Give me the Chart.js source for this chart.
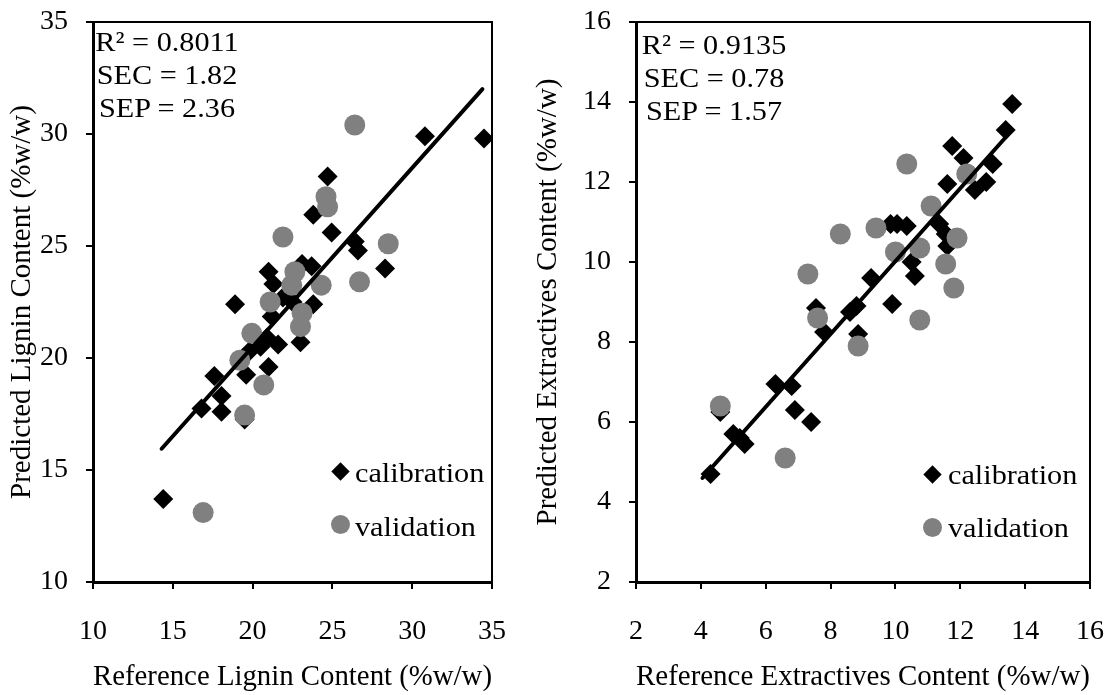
<!DOCTYPE html>
<html>
<head>
<meta charset="utf-8">
<script src="https://cdn.jsdelivr.net/npm/chart.js@4.4.0/dist/chart.umd.min.js"></script>
<style>
body { margin: 0; background: #fff; }
#wrap { position: relative; width: 1114px; height: 695px; font-family: 'Liberation Serif', 'Times New Roman', serif; color: #000; }
.box { position: absolute; top: 0; }
.txt { position: absolute; font-size: 28px; line-height: 28px; white-space: nowrap; transform: scaleX(1.08); transform-origin: 0 50%; }
.stats { position: absolute; font-size: 28px; line-height: 33px; text-align: center; white-space: nowrap; transform: scaleX(1.08); }
.dia { position: absolute; width: 13px; height: 13px; background: #000; transform: rotate(45deg); }
.dot { position: absolute; width: 19px; height: 19px; border-radius: 50%; background: #808080; }
</style>
</head>
<body>
<div id="wrap">
  <div class="box" style="left:0;width:530px;height:695px"><canvas id="lignin" width="530" height="695"></canvas></div>
  <div class="box" style="left:530px;width:584px;height:695px"><canvas id="extract" width="584" height="695"></canvas></div>

  <div class="stats" style="left:92px;top:25px;width:150px">R² = 0.8011<br>SEC = 1.82<br>SEP = 2.36</div>
  <div class="stats" style="left:639px;top:28px;width:150px">R² = 0.9135<br>SEC = 0.78<br>SEP = 1.57</div>

  <div class="dia" style="left:334px;top:465px"></div>
  <div class="txt" style="left:355px;top:459px">calibration</div>
  <div class="dot" style="left:331px;top:515px"></div>
  <div class="txt" style="left:355px;top:513px">validation</div>

  <div class="dia" style="left:926px;top:468px"></div>
  <div class="txt" style="left:948px;top:461px">calibration</div>
  <div class="dot" style="left:923px;top:518px"></div>
  <div class="txt" style="left:948px;top:514px">validation</div>
</div>
<script>
// lignin (left panel)
const ligCalX = [14.4, 16.8, 17.6, 18.05, 18.05, 18.9, 19.5, 19.6, 19.8, 20.5, 20.9, 21.0, 21.0, 21.2, 21.3, 21.6, 21.9, 22.5, 23.0, 23.1, 23.7, 23.8, 23.8, 24.7, 24.95, 26.4, 26.6, 28.3, 30.8, 34.5];
const ligCalY = [13.7, 17.75, 19.2, 18.3, 17.6, 22.4, 17.25, 19.25, 20.3, 20.5, 20.9, 19.6, 23.85, 21.85, 23.3, 20.6, 22.7, 22.5, 20.7, 24.2, 24.1, 22.4, 26.4, 28.1, 25.6, 25.2, 24.8, 24.0, 29.9, 29.8];
const ligValX = [16.9, 19.2, 19.5, 19.95, 20.7, 21.1, 21.9, 22.45, 22.65, 23.0, 23.1, 24.3, 24.6, 24.7, 26.4, 26.7, 28.5];
const ligValY = [13.1, 19.9, 17.45, 21.1, 18.8, 22.5, 25.4, 23.25, 23.85, 21.4, 22.0, 23.25, 27.2, 26.75, 30.4, 23.4, 25.1];
const ligLineX = [14.3, 34.4];
const ligLineY = [15.95, 32.0];
const ligTicks = [10, 15, 20, 25, 30, 35];

// extractives (right panel)
const extCalX = [4.3, 4.6, 5.0, 5.2, 5.35, 6.3, 6.8, 6.9, 7.4, 7.55, 7.8, 8.6, 8.8, 8.85, 9.25, 9.85, 9.9, 10.05, 10.35, 10.5, 10.6, 11.35, 11.55, 11.6, 11.6, 11.75, 12.1, 12.45, 12.8, 13.0, 13.4, 13.6];
const extCalY = [4.7, 6.25, 5.7, 5.6, 5.45, 6.95, 6.9, 6.3, 6.0, 8.85, 8.25, 8.75, 8.9, 8.2, 9.6, 10.95, 8.95, 10.95, 10.9, 10.0, 9.65, 10.95, 10.7, 10.4, 11.95, 12.9, 12.6, 11.8, 12.0, 12.45, 13.3, 13.95];
const extValX = [4.6, 6.6, 7.3, 7.6, 8.3, 8.85, 9.4, 10.0, 10.35, 10.75, 10.75, 11.1, 11.55, 11.8, 11.9, 12.2];
const extValY = [6.4, 5.1, 9.7, 8.6, 10.7, 7.9, 10.85, 10.25, 12.45, 10.35, 8.55, 11.4, 9.95, 9.35, 10.6, 12.2];
const extLineX = [4.05, 13.6];
const extLineY = [4.6, 13.3];
const extTicks = [2, 4, 6, 8, 10, 12, 14, 16];

const serif = "'Liberation Serif', 'Times New Roman', serif";

function pts(xs, ys) {
    let out = [];
    for (let i = 0; i < xs.length; i++) out.push({ x: xs[i], y: ys[i] });
    return out;
}

// draws the top and right edges of the plot box
const frame = {
    id: 'frame',
    afterDraw(chart) {
        const a = chart.chartArea;
        const ctx = chart.ctx;
        ctx.save();
        ctx.strokeStyle = '#000';
        ctx.lineWidth = 2;
        ctx.beginPath();
        ctx.moveTo(a.left, a.top);
        ctx.lineTo(a.right, a.top);
        ctx.lineTo(a.right, a.bottom);
        ctx.stroke();
        ctx.restore();
    }
};

function makeChart(id, p) {
    new Chart(id, {
        type: 'scatter',
        data: {
            datasets: [
                {
                    label: 'fit',
                    data: pts(p.lineX, p.lineY),
                    showLine: true,
                    borderColor: '#000',
                    borderWidth: 4,
                    borderCapStyle: 'round',
                    pointRadius: 0,
                    order: 0
                },
                {
                    label: 'validation',
                    data: pts(p.valX, p.valY),
                    pointStyle: 'circle',
                    pointRadius: 10.5,
                    backgroundColor: '#808080',
                    borderColor: '#808080',
                    borderWidth: 0,
                    order: 1
                },
                {
                    label: 'calibration',
                    data: pts(p.calX, p.calY),
                    pointStyle: 'rectRot',
                    pointRadius: 10,
                    backgroundColor: '#000',
                    borderColor: '#000',
                    borderWidth: 0,
                    order: 2
                }
            ]
        },
        options: {
            responsive: false,
            animation: false,
            devicePixelRatio: 1,
            layout: { padding: { left: 0, top: 22, right: p.rightPad, bottom: 0 } },
            plugins: { legend: { display: false }, tooltip: { enabled: false } },
            scales: {
                x: {
                    type: 'linear',
                    min: p.xTicks[0],
                    max: p.xTicks[p.xTicks.length - 1],
                    afterBuildTicks: (s) => { s.ticks = p.xTicks.map((v) => ({ value: v })); },
                    afterFit: (s) => { s.height = 113; s.paddingLeft = 0; s.paddingRight = 0; },
                    grid: { drawOnChartArea: false, tickLength: 7, color: '#000', lineWidth: 2 },
                    border: { color: '#000', width: 3 },
                    ticks: { color: '#000', font: { family: serif, size: 28 }, padding: 26, maxRotation: 0, autoSkip: false },
                    title: { display: true, text: p.xTitle, color: '#000', font: { family: serif, size: 29 }, padding: { top: 0, bottom: 0 } }
                },
                y: {
                    type: 'linear',
                    min: p.yTicks[0],
                    max: p.yTicks[p.yTicks.length - 1],
                    afterBuildTicks: (s) => { s.ticks = p.yTicks.map((v) => ({ value: v })); },
                    afterFit: (s) => { s.width = p.yWidth; s.paddingTop = 0; s.paddingBottom = 0; },
                    grid: { drawOnChartArea: false, tickLength: 7, color: '#000', lineWidth: 2 },
                    border: { color: '#000', width: 3 },
                    ticks: { color: '#000', font: { family: serif, size: 28 }, padding: 18, autoSkip: false },
                    title: { display: true, text: p.yTitle, color: '#000', font: { family: serif, size: 29 }, padding: { top: p.yTitlePad, bottom: 0 } }
                }
            }
        },
        plugins: [frame]
    });
}

makeChart('lignin', {
    calX: ligCalX, calY: ligCalY, valX: ligValX, valY: ligValY,
    lineX: ligLineX, lineY: ligLineY, xTicks: ligTicks, yTicks: ligTicks,
    xTitle: 'Reference Lignin Content (%w/w)', yTitle: 'Predicted Lignin Content (%w/w)',
    yWidth: 93, rightPad: 38, yTitlePad: 5
});

makeChart('extract', {
    calX: extCalX, calY: extCalY, valX: extValX, valY: extValY,
    lineX: extLineX, lineY: extLineY, xTicks: extTicks, yTicks: extTicks,
    xTitle: 'Reference Extractives Content (%w/w)', yTitle: 'Predicted Extractives Content (%w/w)',
    yWidth: 106, rightPad: 24, yTitlePad: 1
});
</script>
</body>
</html>
